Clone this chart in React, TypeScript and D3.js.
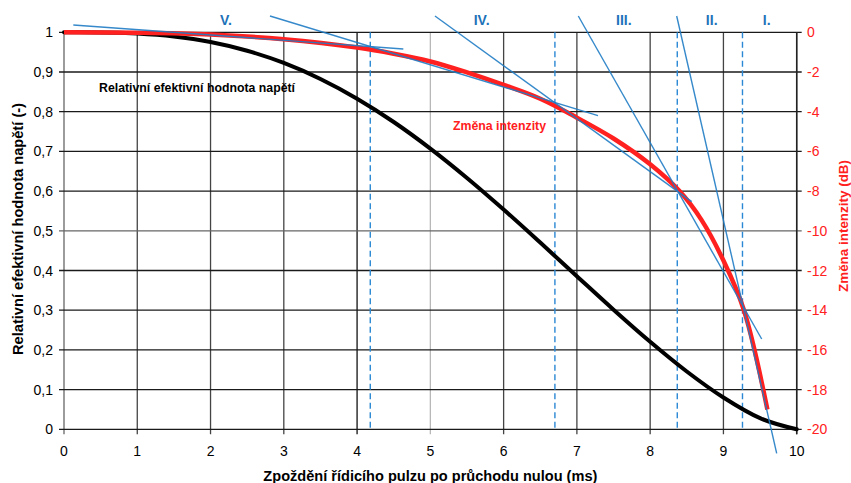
import React from "react";
import * as d3 from "d3";

// ---------- data ----------
const timeTicks = [0, 1, 2, 3, 4, 5, 6, 7, 8, 9, 10];
const voltageTicks = [0, 0.1, 0.2, 0.3, 0.4, 0.5, 0.6, 0.7, 0.8, 0.9, 1];
const voltageTickLabels = ["0", "0,1", "0,2", "0,3", "0,4", "0,5", "0,6", "0,7", "0,8", "0,9", "1"];
const dbTicks = [0, -2, -4, -6, -8, -10, -12, -14, -16, -18, -20];

// relative effective voltage (black curve)
const voltageT = [0, 0.5, 1, 1.5, 2, 2.5, 3, 3.5, 4, 4.5, 5, 5.5, 6, 6.5, 7, 7.5, 8, 8.5, 9, 9.5, 10];
const voltageV = [1, 0.9996, 0.9968, 0.9893, 0.9754, 0.9535, 0.9227, 0.8825, 0.8328, 0.7741, 0.7071,
  0.6331, 0.5535, 0.4703, 0.3855, 0.3013, 0.2205, 0.1456, 0.08, 0.028, 0];

// change of intensity in dB (red curve)
const intensityT = [0, 1, 2, 3, 4, 4.5, 5, 5.5, 6, 6.5, 7, 7.5, 8, 8.4, 8.7, 9, 9.28, 9.6];
const intensityDb = [0, -0.02, -0.11, -0.35, -0.77, -1.08, -1.47, -2.02, -2.65, -3.35, -4.3, -5.35,
  -6.65, -8.0, -9.45, -11.5, -14.0, -19.0];

// region boundaries (dashed lines)
const boundaries = [4.18, 6.7, 8.37, 9.26];
const regionNames = ["V.", "IV.", "III.", "II.", "I."];
const regionLabelT = [2.21, 5.7, 7.64, 8.84, 9.59];

// approximation lines for regions V..I (start t, start dB, end t, end dB)
const approxT1 = [0.127, 2.811, 5.063, 7.019, 8.362];
const approxDb1 = [0.37, 0.82, 0.82, 0.82, 0.82];
const approxT2 = [4.631, 7.288, 8.567, 9.522, 9.727];
const approxDb2 = [-0.84, -4.2, -8.53, -15.45, -21.21];

// ---------- layout ----------
const W = 851;
const H = 483;
const LEFT = 64;
const RIGHT = 796.7;
const TOP = 32.3;
const BOTTOM = 429.3;
const FONT = "'Liberation Sans', Arial, Helvetica, sans-serif";
const BLUE = "#1f7cc4";
const RED = "#ff2020";

export default function App() {
  const x = d3.scaleLinear().domain([0, 10]).range([LEFT, RIGHT]);
  const y = d3.scaleLinear().domain([0, 1]).range([BOTTOM, TOP]);
  const yR = d3.scaleLinear().domain([-20, 0]).range([BOTTOM, TOP]);

  const voltageLine = d3
    .line<number>()
    .x((_, i) => x(voltageT[i]))
    .y((d) => y(d))
    .curve(d3.curveMonotoneX);

  const intensityLine = d3
    .line<number>()
    .x((_, i) => x(intensityT[i]))
    .y((d) => yR(d))
    .curve(d3.curveCatmullRom.alpha(0.5));

  return (
    <svg
      width={W}
      height={H}
      style={{ position: "absolute", left: 0, top: 0, background: "#fff" }}
      fontFamily={FONT}
    >
      <rect x={0} y={0} width={W} height={H} fill="#fff" />

      {/* vertical grid */}
      {timeTicks.map((t) => (
        <line
          key={"vg" + t}
          x1={x(t)}
          x2={x(t)}
          y1={TOP}
          y2={BOTTOM + 5}
          stroke={t === 5 ? "#b8b8b8" : t === 4 ? "#111" : t === 0 ? "#666" : "#444"}
          strokeWidth={1.3}
        />
      ))}
      {/* horizontal grid */}
      {voltageTicks.map((v) => (
        <line
          key={"hg" + v}
          x1={LEFT - 5}
          x2={RIGHT + 5}
          y1={y(v)}
          y2={y(v)}
          stroke={v === 0.5 ? "#666" : "#1a1a1a"}
          strokeWidth={1.3}
        />
      ))}
      <line x1={RIGHT} x2={RIGHT} y1={TOP} y2={BOTTOM + 5} stroke="#222" strokeWidth={1.5} />

      {/* dashed region boundaries */}
      {boundaries.map((b) => (
        <line
          key={"b" + b}
          x1={x(b)}
          x2={x(b)}
          y1={TOP}
          y2={BOTTOM}
          stroke="#2a88d4"
          strokeWidth={1.4}
          strokeDasharray="6,3.5"
        />
      ))}

      {/* black curve */}
      <path d={voltageLine(voltageV) || ""} fill="none" stroke="#000" strokeWidth={4} strokeLinecap="round" />

      {/* red curve */}
      <path d={intensityLine(intensityDb) || ""} fill="none" stroke={RED} strokeWidth={4.5} strokeLinecap="butt" />

      {/* approximation lines */}
      {approxT1.map((t1, i) => (
        <line
          key={"a" + i}
          x1={x(t1)}
          y1={yR(approxDb1[i])}
          x2={x(approxT2[i])}
          y2={yR(approxDb2[i])}
          stroke={BLUE}
          strokeWidth={1.4}
          strokeOpacity={0.9}
        />
      ))}

      {/* region labels */}
      {regionNames.map((n, i) => (
        <text
          key={"r" + n}
          x={x(regionLabelT[i])}
          y={25}
          textAnchor="middle"
          fontSize={14}
          fontWeight="bold"
          fill="#1d72b8"
        >
          {n}
        </text>
      ))}

      {/* left tick labels */}
      {voltageTicks.map((v, i) => (
        <text key={"lt" + v} x={53} y={y(v)} dy="0.36em" textAnchor="end" fontSize={14} fill="#000">
          {voltageTickLabels[i]}
        </text>
      ))}
      {/* right tick labels */}
      {dbTicks.map((d) => (
        <text key={"rt" + d} x={807} y={yR(d)} dy="0.36em" textAnchor="start" fontSize={14} fill={RED}>
          {d}
        </text>
      ))}
      {/* bottom tick labels */}
      {timeTicks.map((t) => (
        <text key={"bt" + t} x={x(t)} y={456} textAnchor="middle" fontSize={14} fill="#000">
          {t}
        </text>
      ))}

      {/* axis titles */}
      <text
        x={(LEFT + RIGHT) / 2}
        y={481}
        textAnchor="middle"
        fontSize={14.5}
        fontWeight="bold"
        textLength={334}
        lengthAdjust="spacingAndGlyphs"
      >
        Zpoždění řídicího pulzu po průchodu nulou (ms)
      </text>
      <text
        transform="translate(23,229) rotate(-90)"
        textAnchor="middle"
        fontSize={14.5}
        fontWeight="bold"
        textLength={252}
        lengthAdjust="spacingAndGlyphs"
      >
        Relativní efektivní hodnota napětí (-)
      </text>
      <text
        transform="translate(848,226) rotate(-90)"
        textAnchor="middle"
        fontSize={13.5}
        fontWeight="bold"
        fill={RED}
        textLength={132}
        lengthAdjust="spacingAndGlyphs"
      >
        Změna intenzity (dB)
      </text>

      {/* annotations */}
      <text x={99} y={91.5} fontSize={12.3} fontWeight="bold" textLength={196} lengthAdjust="spacingAndGlyphs">
        Relativní efektivní hodnota napětí
      </text>
      <text x={453} y={129.5} fontSize={12.3} fontWeight="bold" fill={RED} textLength={93} lengthAdjust="spacingAndGlyphs">
        Změna intenzity
      </text>
    </svg>
  );
}
